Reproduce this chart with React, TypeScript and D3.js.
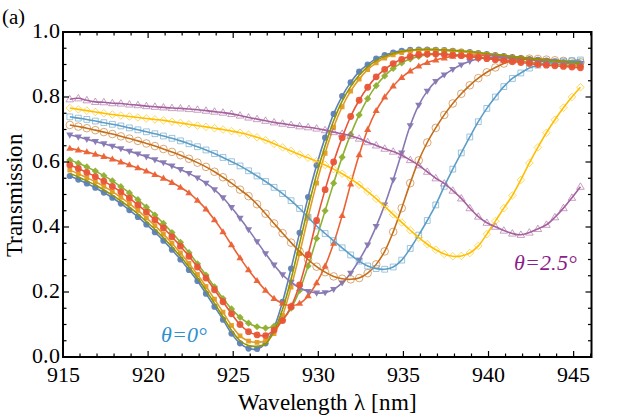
import React from 'react';
import * as d3 from 'd3';

const wavelengths = [915.4, 915.9, 916.4, 916.9, 917.4, 917.9, 918.4, 918.9, 919.4, 919.9, 920.4, 920.9, 921.4, 921.9, 922.4, 922.9, 923.4, 923.9, 924.4, 924.9, 925.4, 925.9, 926.4, 926.9, 927.4, 927.9, 928.4, 928.9, 929.4, 929.9, 930.4, 930.9, 931.4, 931.9, 932.4, 932.9, 933.4, 933.9, 934.4, 934.9, 935.4, 935.9, 936.4, 936.9, 937.4, 937.9, 938.4, 938.9, 939.4, 939.9, 940.4, 940.9, 941.4, 941.9, 942.4, 942.9, 943.4, 943.9, 944.4, 944.9, 945.4];

const tBlue = [.557,.546,.534,.521,.506,.490,.472,.452,.431,.408,.384,.358,.330,.300,.268,.234,.195,.155,.115,.072,.042,.026,.025,.042,.090,.170,.272,.382,.492,.590,.675,.748,.803,.845,.878,.900,.918,.929,.937,.942,.945,.946,.946,.945,.944,.942,.940,.938,.935,.932,.929,.926,.923,.920,.917,.914,.912,.910,.907,.905,.903];
const tOrange = [.575,.564,.552,.539,.525,.509,.491,.472,.451,.428,.404,.378,.350,.320,.288,.254,.217,.178,.138,.097,.065,.049,.045,.050,.072,.128,.215,.318,.430,.535,.627,.707,.770,.818,.855,.884,.905,.920,.930,.937,.942,.944,.945,.945,.944,.942,.940,.937,.934,.931,.928,.925,.922,.919,.916,.913,.910,.908,.905,.903,.901];
const tGreen = [.606,.596,.585,.572,.558,.542,.524,.505,.484,.461,.437,.411,.383,.353,.321,.287,.252,.216,.180,.148,.122,.104,.093,.089,.095,.115,.150,.205,.280,.365,.450,.535,.615,.685,.745,.795,.835,.865,.888,.905,.917,.925,.930,.932,.932,.931,.929,.927,.924,.921,.918,.915,.912,.910,.907,.905,.903,.901,.899,.897,.895];
const tRedTri = [.642,.637,.631,.624,.617,.609,.600,.591,.582,.572,.561,.550,.537,.522,.505,.482,.455,.422,.385,.345,.305,.268,.235,.205,.180,.165,.158,.165,.188,.228,.280,.350,.435,.532,.622,.700,.758,.800,.834,.860,.880,.895,.906,.914,.920,.925,.928,.929,.929,.928,.926,.924,.921,.918,.915,.912,.909,.907,.905,.903,.901];
const tPurple = [.683,.677,.670,.663,.656,.649,.641,.633,.625,.616,.607,.598,.588,.577,.565,.551,.535,.515,.490,.460,.427,.392,.355,.318,.283,.253,.230,.213,.202,.197,.198,.208,.228,.258,.298,.345,.402,.468,.545,.628,.712,.775,.818,.848,.868,.885,.899,.910,.917,.921,.922,.921,.919,.917,.915,.913,.911,.909,.907,.905,.903];
const tBrown = [.714,.709,.704,.698,.692,.686,.679,.672,.665,.657,.649,.640,.631,.621,.610,.598,.585,.570,.553,.535,.515,.495,.470,.441,.411,.381,.352,.325,.300,.278,.261,.248,.241,.239,.243,.258,.285,.325,.385,.458,.535,.605,.660,.705,.745,.780,.810,.836,.858,.876,.891,.903,.911,.916,.918,.917,.915,.913,.911,.909,.907];
const tLightBlue = [.739,.735,.731,.726,.721,.716,.711,.705,.699,.693,.687,.680,.673,.665,.656,.647,.637,.626,.614,.601,.588,.573,.557,.540,.522,.503,.481,.457,.430,.403,.380,.358,.336,.314,.295,.280,.272,.270,.277,.298,.334,.375,.420,.468,.525,.578,.628,.677,.724,.765,.800,.832,.857,.874,.889,.898,.904,.908,.910,.912,.914];
const tYellow = [.766,.762,.758,.754,.750,.746,.743,.740,.737,.734,.731,.728,.724,.720,.716,.712,.708,.704,.700,.695,.690,.684,.676,.667,.656,.645,.634,.623,.613,.602,.591,.578,.564,.548,.530,.509,.487,.463,.439,.414,.390,.367,.347,.330,.317,.310,.311,.320,.342,.378,.418,.458,.497,.545,.597,.645,.690,.730,.767,.800,.830];
const tMagenta = [.793,.796,.790,.785,.784,.781,.780,.777,.775,.772,.770,.768,.766,.765,.763,.761,.758,.755,.752,.748,.743,.737,.732,.727,.722,.718,.714,.710,.707,.703,.698,.692,.687,.681,.672,.661,.651,.641,.632,.621,.606,.590,.570,.550,.534,.512,.488,.458,.432,.413,.401,.389,.380,.376,.383,.394,.407,.430,.458,.490,.524];
const tOlive = [.565,.554,.542,.529,.514,.498,.480,.461,.440,.417,.393,.367,.339,.309,.277,.243,.205,.165,.124,.082,.050,.035,.033,.040,.080,.147,.240,.349,.460,.562,.650,.727,.787,.832,.867,.893,.912,.925,.934,.940,.944,.946,.947,.946,.945,.944,.942,.940,.937,.934,.931,.928,.925,.922,.919,.916,.914,.911,.909,.907,.905];
const tRedDot = [.591,.580,.568,.555,.541,.525,.508,.489,.468,.446,.422,.397,.370,.341,.310,.277,.243,.207,.170,.133,.100,.078,.068,.066,.083,.112,.155,.222,.315,.420,.515,.600,.675,.740,.790,.830,.862,.885,.903,.916,.925,.930,.932,.932,.931,.929,.927,.924,.921,.918,.915,.912,.909,.906,.903,.900,.898,.896,.894,.892,.890];

const xMajorTicks = [915, 920, 925, 930, 935, 940, 945];
const yMajorTicks = [0, 0.2, 0.4, 0.6, 0.8, 1.0];

type Marker = 'circle' | 'square' | 'diamond' | 'up' | 'down' | 'none';
interface Series { values: number[]; color: string; marker: Marker; open: boolean; size: number; }

const series: Series[] = [
  { values: tBlue, color: '#5E81B5', marker: 'circle', open: false, size: 3.1 },
  { values: tOrange, color: '#E19C24', marker: 'square', open: false, size: 2.4 },
  { values: tGreen, color: '#8FB032', marker: 'diamond', open: false, size: 3.6 },
  { values: tRedTri, color: '#EB6235', marker: 'up', open: false, size: 3.6 },
  { values: tPurple, color: '#8778B3', marker: 'down', open: false, size: 3.6 },
  { values: tBrown, color: '#C56E1A', marker: 'circle', open: true, size: 3.8 },
  { values: tLightBlue, color: '#5D9EC7', marker: 'square', open: true, size: 2.9 },
  { values: tYellow, color: '#FFBF00', marker: 'diamond', open: true, size: 3.8 },
  { values: tMagenta, color: '#A5609D', marker: 'up', open: true, size: 3.8 },
  { values: tOlive, color: '#929600', marker: 'none', open: false, size: 0 },
  { values: tRedDot, color: '#E95536', marker: 'circle', open: false, size: 3.4 },
];

const W = 623, H = 420;
const x = d3.scaleLinear().domain([915, 946.05]).range([63, 591.5]);
const y = d3.scaleLinear().domain([0, 1]).range([357, 32]);

function markerPath(m: Marker, s: number): string {
  if (m === 'square') return `M${-s},${-s}H${s}V${s}H${-s}Z`;
  if (m === 'diamond') return `M0,${-s}L${s},0L0,${s}L${-s},0Z`;
  if (m === 'up') { const h = s * 1.7; return `M0,${-h * 0.6}L${s},${h * 0.4}L${-s},${h * 0.4}Z`; }
  if (m === 'down') { const h = s * 1.7; return `M0,${h * 0.6}L${s},${-h * 0.4}L${-s},${-h * 0.4}Z`; }
  return '';
}

const css = `
@font-face { font-family: 'RefSerif'; font-style: normal; font-display: swap; src: local('Liberation Serif'), local('LiberationSerif'), local('LiberationSerif-Regular'); }
@font-face { font-family: 'RefSerif'; font-style: italic; font-display: swap; src: local('Liberation Serif Italic'), local('LiberationSerif-Italic'); }
svg.chart text { font-family: 'RefSerif', 'Liberation Serif', 'Times New Roman', Times !important; }
`;

export default function App() {
  const line = d3.line<number>()
    .x((_, i) => x(wavelengths[i]))
    .y((d) => y(d))
    .curve(d3.curveCatmullRom.alpha(0.5));

  const xMinor = d3.range(915, 946.01, 1);
  const yMinor = d3.range(0, 1.001, 0.05);
  const [x0, x1] = x.range();
  const [y0, y1] = y.range();
  const fam = 'Liberation Serif';

  return (
    <div>
      <style>{css}</style>
      <svg className="chart" width={W} height={H} style={{ position: 'absolute', left: 0, top: 0, background: '#fff' }}>
        <g clipPath="url(#plotclip)">
          <clipPath id="plotclip"><rect x={x0} y={y1} width={x1 - x0} height={y0 - y1} /></clipPath>
          {series.map((s, si) => (
            <g key={si}>
              {s.marker !== 'none' && s.values.map((v, i) => {
                const cx = x(wavelengths[i]);
                const cy = y(v);
                const common = s.open
                  ? { fill: 'none', stroke: s.color, strokeWidth: 1, opacity: 0.6 }
                  : { fill: s.color, stroke: 'none', opacity: 0.95 };
                if (s.marker === 'circle') return <circle key={i} cx={cx} cy={cy} r={s.size} {...common} />;
                return <path key={i} transform={`translate(${cx},${cy})`} d={markerPath(s.marker, s.size)} {...common} />;
              })}
              <path d={line(s.values) || ''} fill="none" stroke={s.color} strokeWidth={1.6} />
            </g>
          ))}
        </g>
        <g stroke="#000" strokeWidth={1.2}>
          {xMinor.map((t) => {
            const major = xMajorTicks.includes(Math.round(t));
            const L = major ? 6 : 3.5;
            return (
              <g key={'x' + t}>
                <line x1={x(t)} x2={x(t)} y1={y0} y2={y0 - L} />
                <line x1={x(t)} x2={x(t)} y1={y1} y2={y1 + L} />
              </g>
            );
          })}
          {yMinor.map((t, i) => {
            const major = i % 4 === 0;
            const L = major ? 6 : 3.5;
            return (
              <g key={'y' + i}>
                <line x1={x0} x2={x0 + L} y1={y(t)} y2={y(t)} />
                <line x1={x1} x2={x1 - L} y1={y(t)} y2={y(t)} />
              </g>
            );
          })}
        </g>
        <rect x={x0} y={y1} width={x1 - x0} height={y0 - y1} fill="none" stroke="#000" strokeWidth={2} />
        {xMajorTicks.map((t) => (
          <text key={'xl' + t} x={x(t)} y={382} textAnchor="middle" fontSize={22} fontFamily={fam}>{t}</text>
        ))}
        {yMajorTicks.map((t) => (
          <text key={'yl' + t} x={60} y={y(t) + 6} textAnchor="end" fontSize={22} fontFamily={fam}>{d3.format('.1f')(t)}</text>
        ))}
        <text x={(x0 + x1) / 2} y={410} textAnchor="middle" fontSize={23} fontFamily={fam}>Wavelength λ [nm]</text>
        <text transform={`translate(22,${(y0 + y1) / 2}) rotate(-90)`} textAnchor="middle" fontSize={23} fontFamily={fam}>Transmission</text>
        <text x={2} y={24} fontSize={21} fontFamily={fam}>(a)</text>
        <text x={161} y={342} fontSize={22} fontStyle="italic" fill="#2F8FD0" fontFamily={fam}>θ=0°</text>
        <text x={514} y={270} fontSize={22} fontStyle="italic" fill="#8B1E8B" fontFamily={fam}>θ=2.5°</text>
      </svg>
    </div>
  );
}
